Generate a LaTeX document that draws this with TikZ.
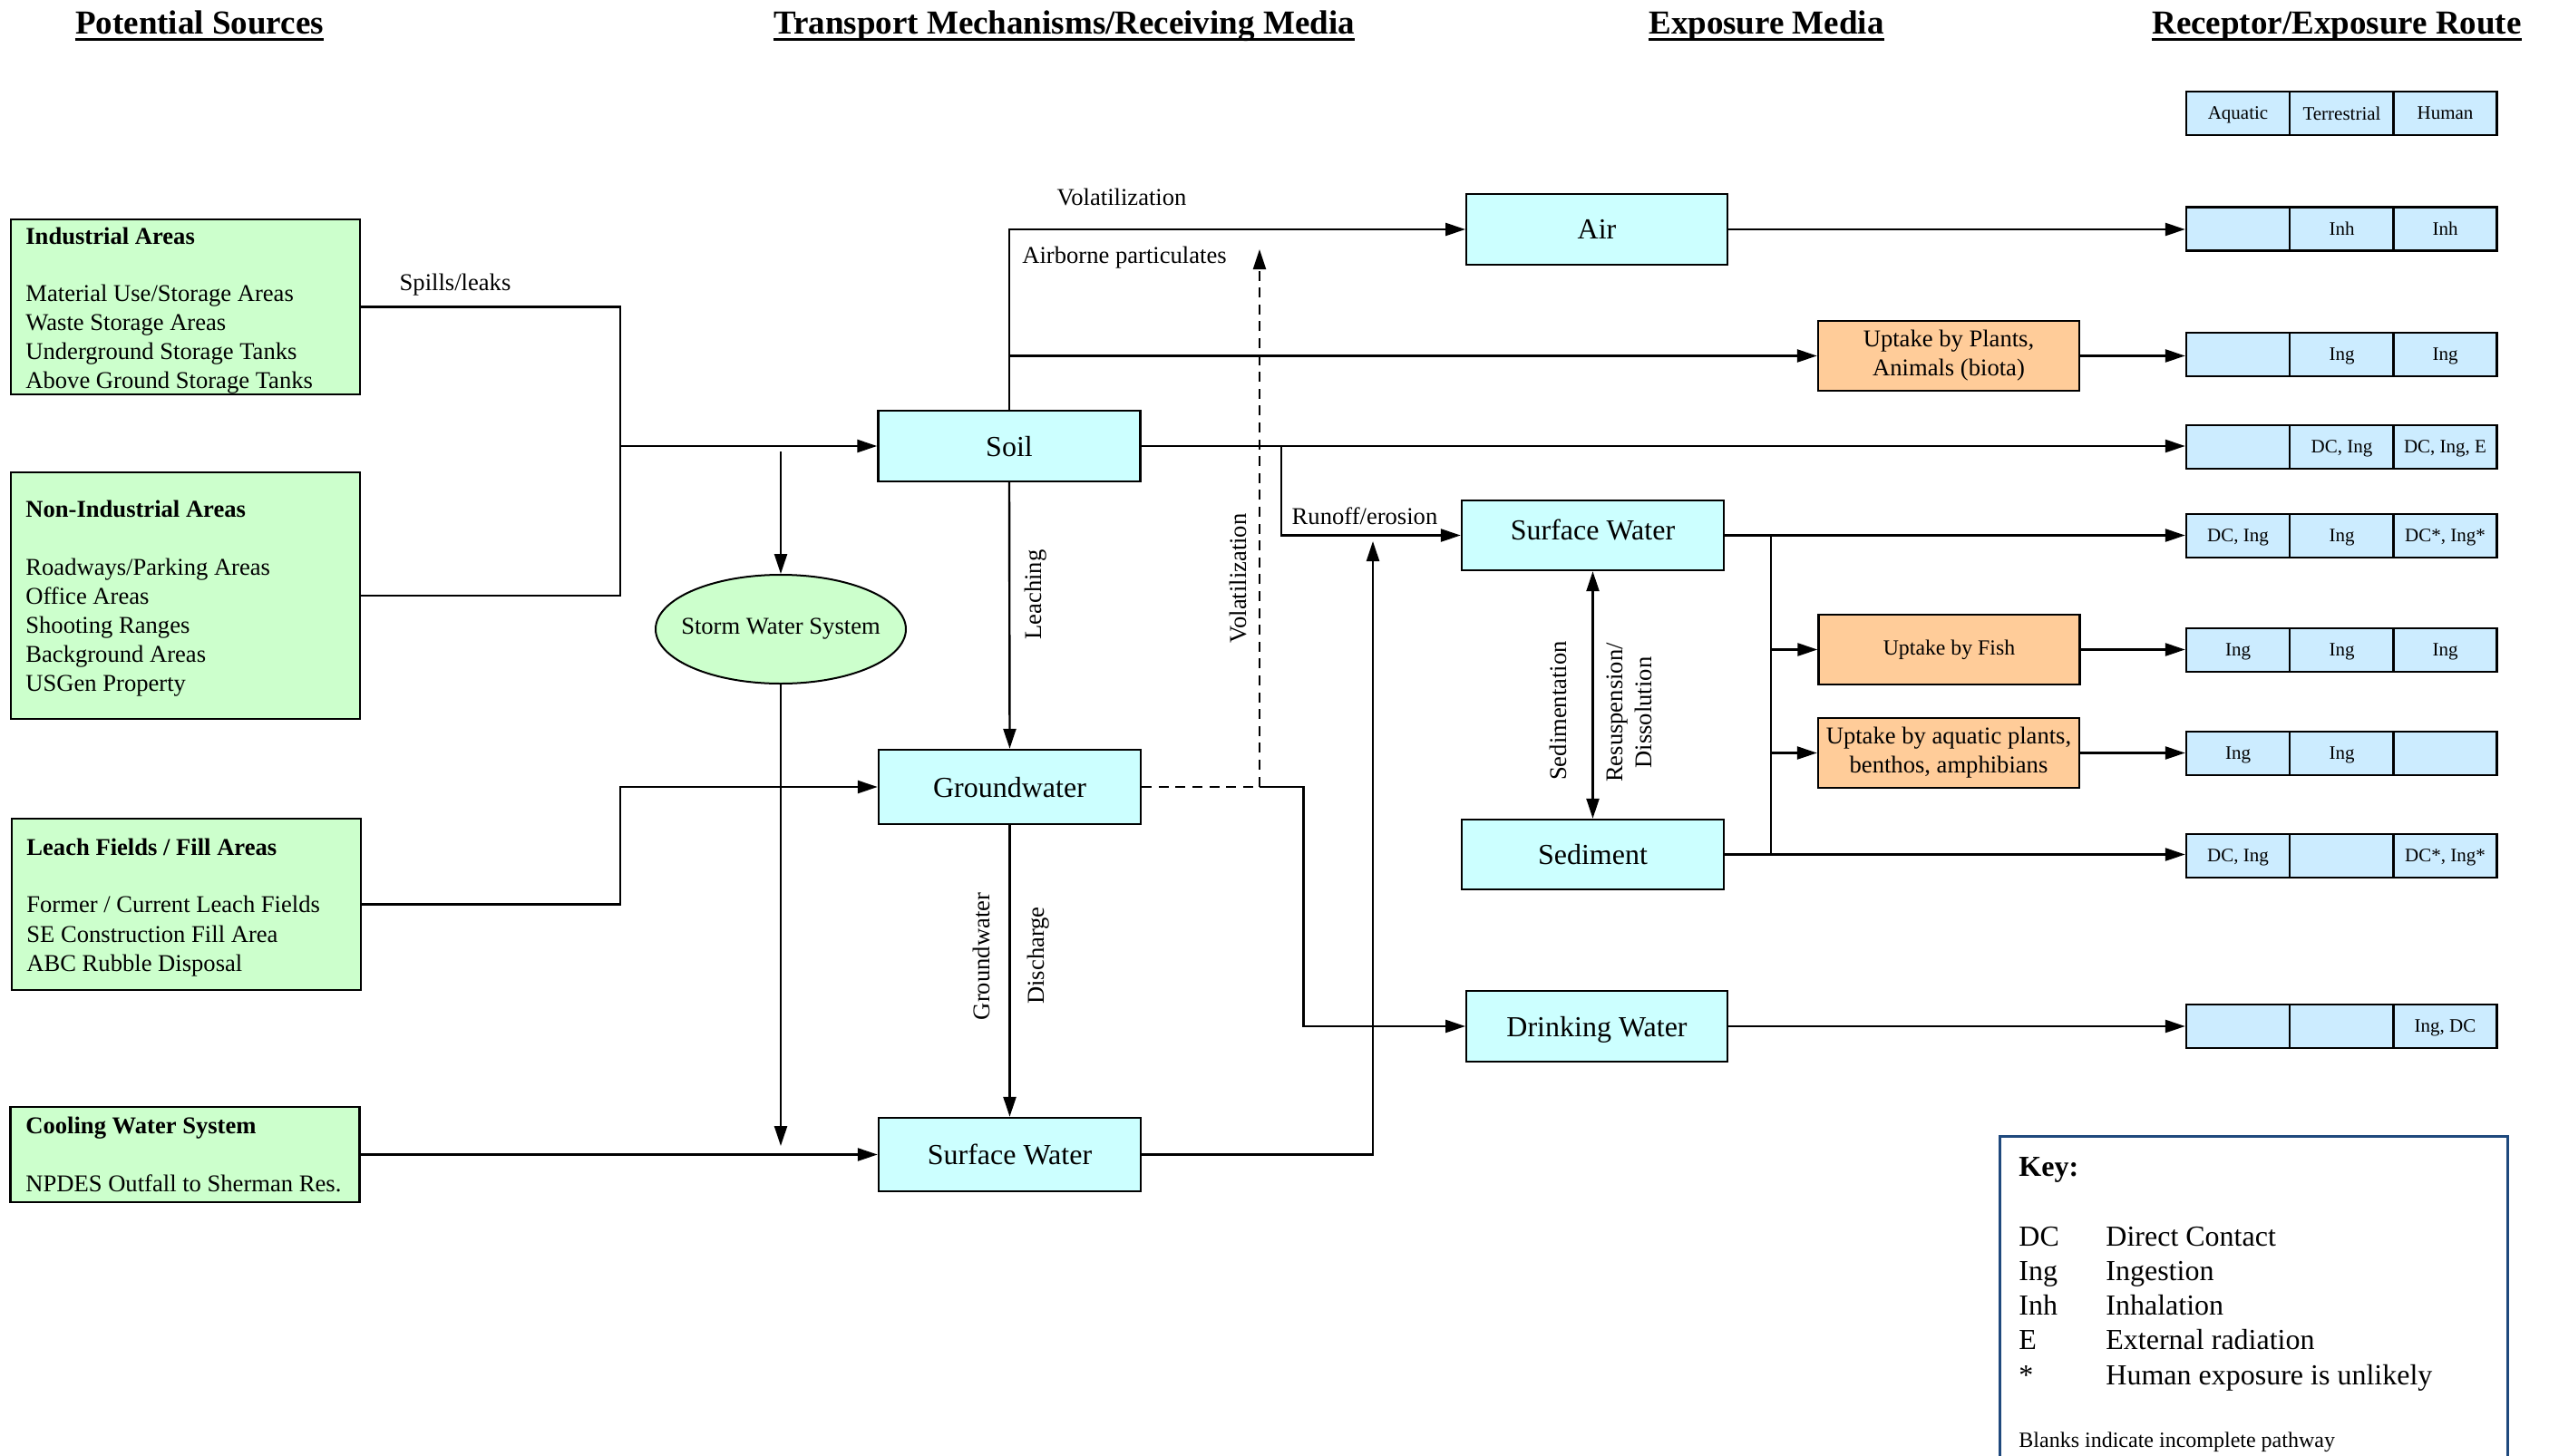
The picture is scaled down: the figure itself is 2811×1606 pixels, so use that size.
\documentclass[tikz,border=0pt]{standalone}
\usepackage{fontspec}
\setmainfont{Liberation Serif}
\usetikzlibrary{arrows.meta,shapes.geometric}
\definecolor{srcgreen}{HTML}{CCFFCC}
\definecolor{medcyan}{HTML}{CCFFFF}
\definecolor{uporange}{HTML}{FFCC99}
\definecolor{cellblue}{HTML}{CCECFF}
\definecolor{keyblue}{HTML}{1F497D}
\newcommand\recrow[5]{%
  \node[cell,minimum width=57pt] (#1a) at (2468,#2) {#3};
  \node[cell,minimum width=57.5pt] (#1b) at (2582.5,#2) {#4};
  \node[cell,minimum width=57pt] (#1c) at (2696.5,#2) {#5};
}
\begin{document}
\begin{tikzpicture}[x=0.5pt,y=-0.5pt,
  ln/.style={line width=1.2pt},
  arr/.style={line width=1.2pt,-{Triangle[length=11pt,width=7pt]}},
  src/.style={draw,line width=1.2pt,fill=srcgreen,inner sep=0pt,minimum width=192.5pt},
  med/.style={draw,line width=1.2pt,fill=medcyan,inner sep=0pt,minimum width=144.5pt,font=\fontsize{16}{19}\selectfont,text depth=0pt},
  upt/.style={draw,line width=1.2pt,fill=uporange,inner sep=0pt,minimum width=144pt,minimum height=38.5pt,align=center,font=\fontsize{13.3}{16}\selectfont},
  cell/.style={draw,line width=1.2pt,fill=cellblue,inner sep=0pt,minimum height=24pt,text depth=0pt,font=\fontsize{10.5}{12}\selectfont},
  txt/.style={inner sep=0pt,anchor=base west,font=\fontsize{13.3}{16}\selectfont},
  btxt/.style={inner sep=0pt,anchor=base west,font=\fontsize{13.3}{16}\selectfont\bfseries},
  lbl/.style={inner sep=0pt,anchor=base,font=\fontsize{13.3}{16}\selectfont},
  rlbl/.style={inner sep=0pt,rotate=90,align=center,font=\fontsize{13.3}{16}\selectfont},
  hdr/.style={inner sep=0pt,anchor=base,font=\fontsize{18.5}{22}\selectfont\bfseries},
  uline/.style={line width=1.5pt},
  keyt/.style={inner sep=0pt,anchor=base west,font=\fontsize{16}{19}\selectfont}
]
\useasboundingbox (0,0) rectangle (2811,1606);

% headers
\node[hdr] (h1) at (220,37.5) {Potential Sources};
\node[hdr] (h2) at (1173.5,37.5) {Transport Mechanisms/Receiving Media};
\node[hdr] (h3) at (1948,37.5) {Exposure Media};
\node[hdr] (h4) at (2577,37.5) {Receptor/Exposure Route};
\foreach \h in {h1,h2,h3,h4}
  \draw[uline] ([yshift=-2.75pt]\h.base west) -- ([yshift=-2.75pt]\h.base east);

% source boxes
\node[src,minimum height=96.5pt] (ind) at (204.5,338.5) {};
\node[src,minimum height=136pt] (nonind) at (204.5,657) {};
\node[src,minimum height=94.5pt] (leach) at (205.5,997.5) {};
\node[src,minimum height=52.25pt] (cool) at (204,1273.5) {};

\node[btxt] (indT) at (28,269) {Industrial Areas};
\node[txt] (ind1) at (28,332) {Material Use/Storage Areas};
\node[txt] (ind2) at (28,364) {Waste Storage Areas};
\node[txt] (ind3) at (28,396) {Underground Storage Tanks};
\node[txt] (ind4) at (28,428) {Above Ground Storage Tanks};

\node[btxt] (nonT) at (28,570) {Non-Industrial Areas};
\node[txt] (non1) at (28,634) {Roadways/Parking Areas};
\node[txt] (non2) at (28,666) {Office Areas};
\node[txt] (non3) at (28,698) {Shooting Ranges};
\node[txt] (non4) at (28,730) {Background Areas};
\node[txt] (non5) at (28,762) {USGen Property};

\node[btxt] (leaT) at (29,943) {Leach Fields / Fill Areas};
\node[txt] (lea1) at (29,1006) {Former / Current Leach Fields};
\node[txt] (lea2) at (29,1039) {SE Construction Fill Area};
\node[txt] (lea3) at (29,1071) {ABC Rubble Disposal};

\node[btxt] (cooT) at (28,1250) {Cooling Water System};
\node[txt] (coo1) at (28,1314) {NPDES Outfall to Sherman Res.};

% storm water
\node[draw,ellipse,line width=1pt,fill=srcgreen,minimum width=138pt,minimum height=60pt,inner sep=0pt] (storm) at (861,694) {};
\node[inner sep=0pt,font=\fontsize{13.3}{16}\selectfont] (stormT) at (storm.center) {Storm Water System};

% transport media
\node[med,minimum height=39pt] (soil) at (1113,492) {Soil};
\node[med,minimum height=41pt] (gw) at (1113.5,868) {Groundwater};
\node[med,minimum height=40.5pt] (sw1) at (1113.5,1273.5) {Surface Water};

% exposure media
\node[med,minimum width=143.75pt,minimum height=39pt] (air) at (1761,253) {Air};
\node[med,minimum height=38.5pt,text depth=6pt] (sw2) at (1756.5,590.5) {Surface Water};
\node[med,minimum height=38.5pt] (sed) at (1756.5,942.5) {Sediment};
\node[med,minimum width=143.75pt,minimum height=39pt] (dw) at (1761,1132) {Drinking Water};

% uptake boxes
\node[upt] (upl) at (2149,392.5) {Uptake by Plants,\\Animals (biota)};
\node[upt,font=\fontsize{11.9}{14}\selectfont] (ufish) at (2149.5,716.5) {Uptake by Fish};
\node[upt] (uaq) at (2149,830.5) {Uptake by aquatic plants,\\benthos, amphibians};

% receptor table
\recrow{hd}{125}{Aquatic}{Terrestrial}{Human}
\recrow{ar}{252.5}{}{Inh}{Inh}
\recrow{pl}{391}{}{Ing}{Ing}
\recrow{so}{493}{}{DC, Ing}{DC, Ing, E}
\recrow{sw}{591}{DC, Ing}{Ing}{DC*, Ing*}
\recrow{fi}{717}{Ing}{Ing}{Ing}
\recrow{aq}{831}{Ing}{Ing}{}
\recrow{sd}{944}{DC, Ing}{}{DC*, Ing*}
\recrow{dr}{1132}{}{}{Ing, DC}

% source connectors
\coordinate (jsrc) at (683.7,492);
\coordinate (jleach) at (683.7,868);
\draw[ln] (ind.east) -| (jsrc);
\draw[ln] (nonind.east) -| (jsrc);
\draw[arr] (jsrc) -- (soil.west);
\draw[arr] (leach.east) -| (jleach) -- (gw.west);
\draw[arr] (cool.east) -- (cool.east -| sw1.west);
\node[lbl] (spill) at (502,320) {Spills/leaks};

\coordinate (stormin) at (861,498);
\coordinate (stormout) at (861,1264);
\draw[arr] (stormin) -- (storm.north);
\draw[arr] (storm.south) -- (stormout);

% transport connectors
\draw[arr] (soil.north) |- (air.west);
\coordinate (sp) at (soil.north |- upl.west);
\draw[arr] (sp) -- (upl.west);
\draw[arr] (soil.east) -- (soil.east -| soa.west);
\coordinate (ro) at (1413,492);
\draw[arr] (ro) |- (sw2.west);
\draw[arr] (soil.south) -- (gw.north);
\draw[arr] (gw.south) -- (sw1.north);
\coordinate (vd) at (1389,868);
\coordinate (vtip) at (1389,275);
\draw[line width=1pt,dash pattern=on 5.5pt off 3.8pt,-{Triangle[length=11pt,width=7pt]}] (gw.east) -- (vd) -- (vtip);
\coordinate (dwb) at (1437.6,868);
\draw[arr] (vd) -- (dwb) |- (dw.west);
\coordinate (swup) at (1514,597);
\draw[arr] (sw1.east) -| (swup);

\node[lbl] (lvol) at (1237,226) {Volatilization};
\node[lbl] (lair) at (1240,290) {Airborne particulates};
\node[lbl] (lrun) at (1505,578) {Runoff/erosion};
\node[rlbl] (lleach) at (1142,656) {Leaching};
\node[rlbl] (lvol2) at (1365.5,638) {Volatilization};
\node[rlbl] (lgw) at (1082,1055) {Groundwater};
\node[rlbl] (ldis) at (1145,1054) {Discharge};
\node[rlbl] (lsed) at (1718,784) {Sedimentation};
\node[rlbl] (lres) at (1797,786) {Resuspension/\\Dissolution};

% exposure connectors
\draw[{Triangle[length=11pt,width=7pt]}-{Triangle[length=11pt,width=7pt]},line width=1.2pt] (sw2.south) -- (sed.north);
\draw[arr] (air.east) -- (air.east -| ara.west);
\draw[arr] (upl.east) -- (upl.east -| pla.west);
\draw[arr] (sw2.east) -- (sw2.east -| swa.west);
\coordinate (br) at (1953,590.5);
\coordinate (brb) at (1953,942.5);
\draw[ln] (br) -- (brb);
\draw[arr] (br |- ufish.west) -- (ufish.west);
\draw[arr] (br |- uaq.west) -- (uaq.west);
\draw[arr] (sed.east) -- (sed.east -| sda.west);
\draw[arr] (ufish.east) -- (ufish.east -| fia.west);
\draw[arr] (uaq.east) -- (uaq.east -| aqa.west);
\draw[arr] (dw.east) -- (dw.east -| dra.west);

% key
\draw[keyblue,line width=1.5pt] (2205,1606) |- (2765,1253) -- (2765,1606);
\node[keyt,font=\fontsize{16}{19}\selectfont\bfseries] (keyT) at (2226,1297) {Key:};
\node[keyt] (k1) at (2226,1374) {DC};
\node[keyt] (k1d) at (2322,1374) {Direct Contact};
\node[keyt] (k2) at (2226,1412) {Ing};
\node[keyt] (k2d) at (2322,1412) {Ingestion};
\node[keyt] (k3) at (2226,1450) {Inh};
\node[keyt] (k3d) at (2322,1450) {Inhalation};
\node[keyt] (k4) at (2226,1488) {E};
\node[keyt] (k4d) at (2322,1488) {External radiation};
\node[keyt] (k5) at (2226,1527) {*};
\node[keyt] (k5d) at (2322,1527) {Human exposure is unlikely};
\node[keyt,font=\fontsize{12}{14}\selectfont] (k6) at (2226,1596) {Blanks indicate incomplete pathway};
\end{tikzpicture}
\end{document}
